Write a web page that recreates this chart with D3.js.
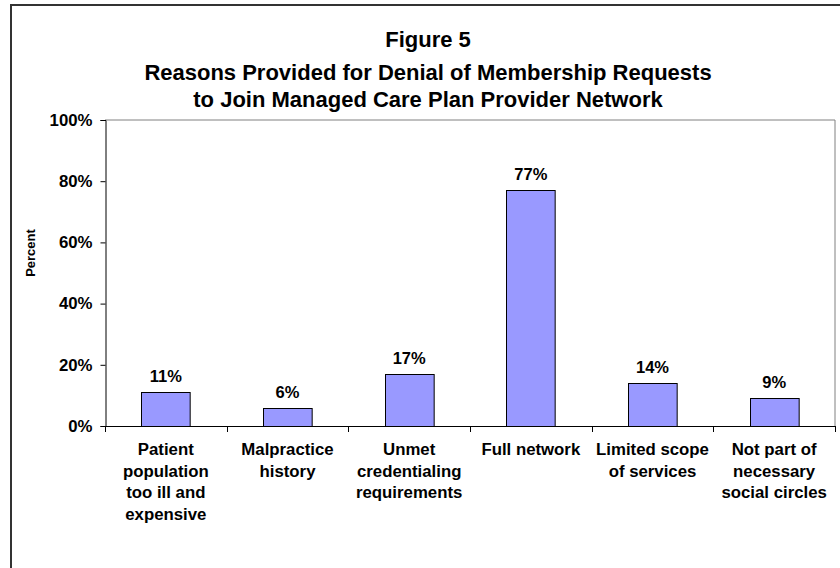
<!DOCTYPE html>
<html>
<head>
<meta charset="utf-8">
<script src="https://cdn.jsdelivr.net/npm/d3@7"></script>
<style>
  html, body { margin: 0; padding: 0; background: #fff; }
  svg { display: block; }
  text { font-family: Arial, "Liberation Sans", sans-serif; font-weight: bold; fill: #000; }
</style>
</head>
<body>
<svg id="chart" width="840" height="568"></svg>
<script>
// Reasons for denial of provider network membership (percent of respondents)
const categories = [
  "Patient population too ill and expensive",
  "Malpractice history",
  "Unmet credentialing requirements",
  "Full network",
  "Limited scope of services",
  "Not part of necessary social circles"
];
const categoryLines = [
  ["Patient", "population", "too ill and", "expensive"],
  ["Malpractice", "history"],
  ["Unmet", "credentialing", "requirements"],
  ["Full network"],
  ["Limited scope", "of services"],
  ["Not part of", "necessary", "social circles"]
];
const values = [11, 6, 17, 77, 14, 9];
const yTicks = [0, 20, 40, 60, 80, 100];
const titleLines = [
  "Figure 5",
  "Reasons Provided for Denial of Membership Requests",
  "to Join Managed Care Plan Provider Network"
];
const yAxisTitle = "Percent";

const svg = d3.select("#chart");
const plot = { left: 105, right: 835, top: 120, bottom: 426 };

// Outer chart frame (runs off the right and bottom edges)
svg.append("rect")
  .attr("x", 11).attr("y", 5)
  .attr("width", 1000).attr("height", 1000)
  .attr("fill", "none")
  .attr("stroke", "#333")
  .attr("stroke-width", 2);

const x = d3.scaleBand()
  .domain(categories)
  .range([plot.left, plot.right])
  .paddingInner(0.6)
  .paddingOuter(0.3);

const y = d3.scaleLinear()
  .domain([0, 100])
  .range([plot.bottom, plot.top]);

// Plot area border (top and right sides)
svg.append("path")
  .attr("d", `M${plot.left},${plot.top}H${plot.right}V${plot.bottom}`)
  .attr("fill", "none")
  .attr("stroke", "#808080")
  .attr("stroke-width", 1);

// Title
const title = svg.append("text")
  .attr("text-anchor", "middle")
  .style("font-size", "22px");
const titleY = [47, 80, 107];
titleLines.forEach((t, i) => {
  title.append("tspan").attr("x", 428).attr("y", titleY[i]).text(t);
});

// Bars
svg.append("g").selectAll("rect")
  .data(values)
  .join("rect")
  .attr("x", (d, i) => Math.round(x(categories[i])) + 0.5)
  .attr("y", d => Math.round(y(d)) + 0.5)
  .attr("width", x.bandwidth())
  .attr("height", d => Math.round(y(0)) - Math.round(y(d)))
  .attr("fill", "#9999FF")
  .attr("stroke", "#000")
  .attr("stroke-width", 1);

// Value labels
svg.append("g").selectAll("text")
  .data(values)
  .join("text")
  .attr("x", (d, i) => x(categories[i]) + x.bandwidth() / 2)
  .attr("y", d => y(d) - 10)
  .attr("text-anchor", "middle")
  .style("font-size", "16.5px")
  .text(d => d + "%");

// Y axis
const yAxis = d3.axisLeft(y)
  .tickValues(yTicks)
  .tickSize(5)
  .tickFormat(d => d + "%");
const gy = svg.append("g")
  .attr("transform", `translate(${plot.left + 0.5},0)`)
  .call(yAxis);
gy.select(".domain").attr("stroke", "#000");
gy.selectAll(".tick line").attr("stroke", "#000");
gy.selectAll(".tick text")
  .attr("x", -13)
  .style("font-size", "16.8px")
  .style("font-family", "Arial, 'Liberation Sans', sans-serif")
  .style("font-weight", "bold");

// X axis with ticks at category boundaries
const boundaries = d3.range(categories.length + 1)
  .map(i => plot.left + i * x.step());
const gx = svg.append("g");
gx.append("line")
  .attr("x1", plot.left).attr("x2", plot.right + 1)
  .attr("y1", plot.bottom + 0.5).attr("y2", plot.bottom + 0.5)
  .attr("stroke", "#000");
gx.selectAll("line.tick")
  .data(boundaries)
  .join("line")
  .attr("class", "tick")
  .attr("x1", d => Math.round(d) + 0.5).attr("x2", d => Math.round(d) + 0.5)
  .attr("y1", plot.bottom).attr("y2", plot.bottom + 6)
  .attr("stroke", "#000");

// Category labels
const catG = svg.append("g");
categoryLines.forEach((lines, i) => {
  const t = catG.append("text")
    .attr("text-anchor", "middle")
    .style("font-size", "16.8px");
  lines.forEach((ln, j) => {
    t.append("tspan")
      .attr("x", x(categories[i]) + x.bandwidth() / 2)
      .attr("y", 455 + j * 21.5)
      .text(ln);
  });
});

// Y axis title
svg.append("text")
  .attr("transform", "translate(35,253) rotate(-90)")
  .attr("text-anchor", "middle")
  .style("font-size", "13px")
  .text(yAxisTitle);
</script>
</body>
</html>
